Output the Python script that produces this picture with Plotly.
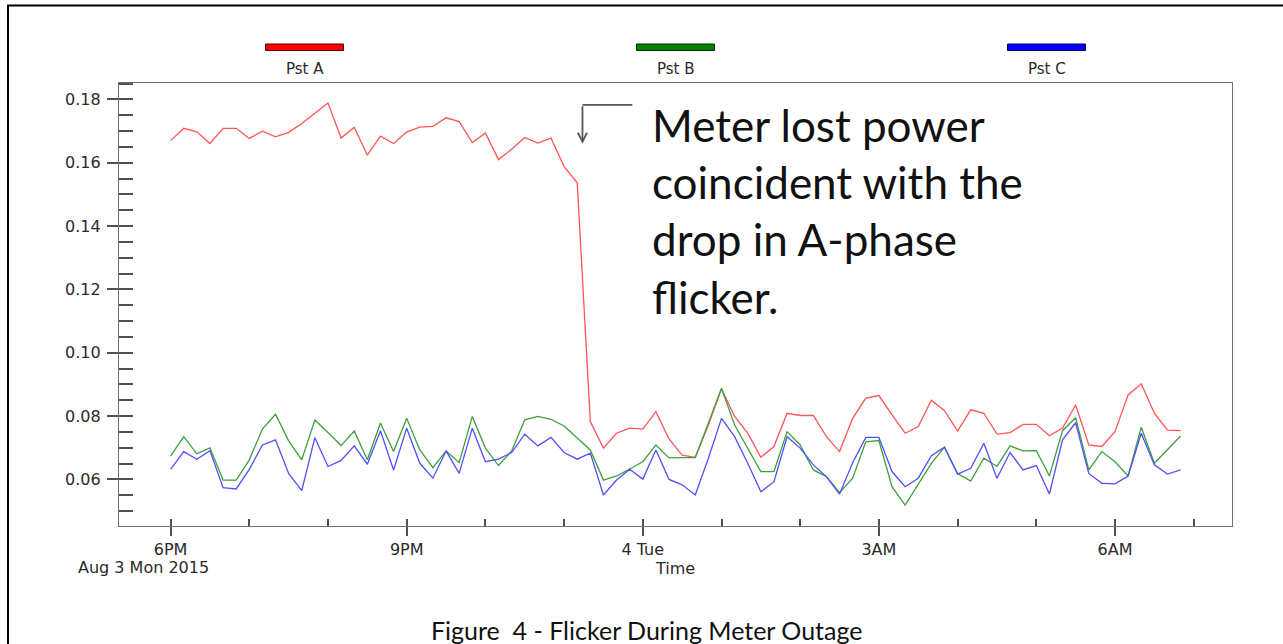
import plotly.graph_objects as go
import pandas as pd

# ---------------- data ----------------
times = pd.date_range("2015-08-03 18:00", periods=78, freq="10min")

pst_a = [0.1670, 0.1709, 0.1698, 0.1661, 0.1709, 0.1709, 0.1677, 0.1700, 0.1682, 0.1696,
         0.1724, 0.1757, 0.1789, 0.1678, 0.1712, 0.1624, 0.1684, 0.1661, 0.1697, 0.1713,
         0.1715, 0.1742, 0.1730, 0.1664, 0.1694, 0.1610, 0.1643, 0.1680, 0.1662, 0.1678,
         0.1588, 0.1537, 0.0783, 0.0699, 0.0746, 0.0762, 0.0759, 0.0814, 0.0728, 0.0677,
         0.0670, 0.0772, 0.0886, 0.0799, 0.0746, 0.0670, 0.0704, 0.0809, 0.0802, 0.0802,
         0.0735, 0.0688, 0.0793, 0.0857, 0.0865, 0.0804, 0.0746, 0.0767, 0.0850, 0.0817,
         0.0753, 0.0820, 0.0809, 0.0743, 0.0748, 0.0774, 0.0774, 0.0738, 0.0762, 0.0835,
         0.0709, 0.0704, 0.0751, 0.0867, 0.0902, 0.0809, 0.0756, 0.0754]

pst_b = [0.0674, 0.0735, 0.0681, 0.0700, 0.0598, 0.0598, 0.0662, 0.0759, 0.0806, 0.0722,
         0.0662, 0.0788, 0.0748, 0.0707, 0.0753, 0.0662, 0.0778, 0.0688, 0.0793, 0.0693,
         0.0637, 0.0690, 0.0653, 0.0799, 0.0699, 0.0644, 0.0690, 0.0788, 0.0799, 0.0790,
         0.0769, 0.0730, 0.0693, 0.0598, 0.0611, 0.0633, 0.0656, 0.0709, 0.0668, 0.0669,
         0.0669, 0.0778, 0.0888, 0.0772, 0.0699, 0.0625, 0.0625, 0.0751, 0.0709, 0.0630,
         0.0609, 0.0558, 0.0604, 0.0719, 0.0723, 0.0577, 0.0519, 0.0583, 0.0651, 0.0702,
         0.0619, 0.0595, 0.0667, 0.0641, 0.0706, 0.0690, 0.0691, 0.0611, 0.0754, 0.0795,
         0.0630, 0.0688, 0.0656, 0.0611, 0.0765, 0.0651, 0.0694, 0.0737]

pst_c = [0.0632, 0.0688, 0.0664, 0.0691, 0.0574, 0.0570, 0.0632, 0.0709, 0.0725, 0.0619,
         0.0565, 0.0732, 0.0641, 0.0660, 0.0706, 0.0648, 0.0754, 0.0630, 0.0762, 0.0651,
         0.0604, 0.0690, 0.0619, 0.0762, 0.0656, 0.0664, 0.0685, 0.0743, 0.0706, 0.0733,
         0.0685, 0.0664, 0.0683, 0.0551, 0.0598, 0.0632, 0.0601, 0.0693, 0.0600, 0.0583,
         0.0551, 0.0667, 0.0793, 0.0735, 0.0651, 0.0561, 0.0593, 0.0735, 0.0699, 0.0646,
         0.0609, 0.0554, 0.0653, 0.0733, 0.0733, 0.0625, 0.0577, 0.0604, 0.0675, 0.0702,
         0.0617, 0.0635, 0.0714, 0.0604, 0.0685, 0.0630, 0.0644, 0.0554, 0.0725, 0.0779,
         0.0619, 0.0588, 0.0586, 0.0611, 0.0746, 0.0646, 0.0617, 0.0630]

series_names = ["Pst A", "Pst B", "Pst C"]
x_tick_vals = ["2015-08-03 18:00", "2015-08-03 21:00", "2015-08-04 00:00",
               "2015-08-04 03:00", "2015-08-04 06:00"]
x_tick_text = ["6PM", "9PM", "4 Tue", "3AM", "6AM"]
y_tick_vals = [0.06, 0.08, 0.10, 0.12, 0.14, 0.16, 0.18]
date_label = "Aug 3 Mon 2015"
x_title = "Time"
note_lines = ["Meter lost power", "coincident with the", "drop in A-phase", "flicker."]
note_time = "2015-08-03 23:14"
note_corner_time = "2015-08-03 23:52"
note_tip_value = 0.1660
note_tail_value = 0.1783
caption = "Figure  4 - Flicker During Meter Outage"

# ---------------- styles ----------------
W, H = 1283, 644
L, R, T, B = 119, 51, 83, 118
PW, PH = W - L - R, H - T - B
x_range = ["2015-08-03 17:20:40", "2015-08-04 07:29:12"]
y_range = [0.0453, 0.1852]

def px_x(x):
    return (x - L) / PW

def px_y(y):
    return (H - B - y) / PH

line_colors = ["#ff5555", "#3f9f3f", "#5050ff"]
swatch_fill = ["#ff0000", "#008000", "#0000ff"]
swatch_edge = ["#5a0000", "#003000", "#00005a"]
tick_font = dict(family="DejaVu Sans", size=16, color="#2a2a2a")
axis_grey = "#707070"
tick_grey = "#505050"

fig = go.Figure()
for name, vals, col in zip(series_names, [pst_a, pst_b, pst_c], line_colors):
    fig.add_trace(go.Scatter(x=times, y=vals, mode="lines", name=name,
                             line=dict(color=col, width=1.3), showlegend=False))

shapes = []
annotations = []

# legend swatches + labels (centered at 1/6, 1/2, 5/6 of plot width)
for k, (name, fcol, ecol) in enumerate(zip(series_names, swatch_fill, swatch_edge)):
    cx = (2 * k + 1) / 6
    half = 39 / PW
    shapes.append(dict(type="rect", xref="paper", yref="paper",
                       x0=cx - half, x1=cx + half, y0=px_y(50.5), y1=px_y(44),
                       fillcolor=fcol, line=dict(color=ecol, width=1)))
    annotations.append(dict(xref="paper", yref="paper", x=cx, y=px_y(69),
                            text=name, showarrow=False, xanchor="center", yanchor="middle",
                            font=dict(family="DejaVu Sans", size=15, color="#2a2a2a")))

# date label under 6PM
annotations.append(dict(xref="paper", yref="paper", x=px_x(211), y=px_y(556),
                        text=date_label, showarrow=False, xanchor="right", yanchor="top",
                        font=tick_font))

# callout text
annotations.append(dict(xref="paper", yref="paper", x=px_x(650), y=px_y(97),
                        text="<br>".join(note_lines), showarrow=False, align="left",
                        xanchor="left", yanchor="top",
                        font=dict(family="Lato", size=44, color="#111111")))

# callout arrow (vertical part with head)
annotations.append(dict(xref="x", yref="y", x=note_time, y=note_tip_value,
                        ax=0, ay=-39, text="", showarrow=True, arrowhead=5,
                        arrowsize=1.0, arrowwidth=1.8, arrowcolor="#555555",
                        standoff=0, startstandoff=0))
shapes.append(dict(type="line", xref="x", yref="y", x0=note_time, x1=note_corner_time,
                   y0=note_tail_value, y1=note_tail_value,
                   line=dict(color="#555555", width=1.8)))

# caption
annotations.append(dict(xref="paper", yref="paper", x=px_x(646), y=px_y(613),
                        text=caption, showarrow=False, xanchor="center", yanchor="top",
                        font=dict(family="Lato", size=25, color="#111111")))

# page border (left and top)
shapes.append(dict(type="line", xref="paper", yref="paper",
                   x0=px_x(8), x1=px_x(8), y0=px_y(5), y1=px_y(650),
                   line=dict(color="black", width=2)))
shapes.append(dict(type="line", xref="paper", yref="paper",
                   x0=px_x(7), x1=px_x(1290), y0=px_y(5.5), y1=px_y(5.5),
                   line=dict(color="black", width=2)))

fig.update_layout(
    width=W, height=H,
    margin=dict(l=L, r=R, t=T, b=B, autoexpand=False),
    paper_bgcolor="white", plot_bgcolor="white",
    shapes=shapes, annotations=annotations,
    xaxis=dict(type="date", range=x_range,
               tickmode="array", tickvals=x_tick_vals, ticktext=x_tick_text,
               ticks="outside", ticklen=9, tickwidth=1.5, tickcolor=tick_grey,
               tickfont=tick_font, showgrid=False, zeroline=False,
               showline=True, linecolor=axis_grey, linewidth=1.3, mirror=True,
               minor=dict(ticks="inside", ticklen=7, tickwidth=1.5, tickcolor=tick_grey,
                          tickmode="linear", tick0="2015-08-03 18:00", dtick=3600000,
                          showgrid=False),
               title=dict(text=x_title, font=tick_font, standoff=3)),
    # overlay axis: inner half of the major x ticks
    xaxis2=dict(type="date", range=x_range, overlaying="x", anchor="y", side="bottom",
                tickmode="array", tickvals=x_tick_vals, ticks="inside", ticklen=7,
                tickwidth=1.5, tickcolor=tick_grey, showticklabels=False,
                showgrid=False, zeroline=False, showline=False),
    yaxis=dict(range=y_range,
               tickmode="array", tickvals=y_tick_vals, tickformat=".2f",
               ticks="outside", ticklen=11, tickwidth=1.5, tickcolor=tick_grey,
               tickfont=tick_font, showgrid=False, zeroline=False, ticklabelstandoff=3,
               showline=True, linecolor=axis_grey, linewidth=1.3, mirror=True,
               minor=dict(ticks="inside", ticklen=14, tickwidth=1.5, tickcolor=tick_grey,
                          tickmode="linear", tick0=0, dtick=0.005, showgrid=False)),
    # overlay axis: inner half of the major y ticks
    yaxis2=dict(range=y_range, overlaying="y", anchor="x", side="left",
                tickmode="array", tickvals=y_tick_vals, ticks="inside", ticklen=14,
                tickwidth=1.5, tickcolor=tick_grey, showticklabels=False,
                showgrid=False, zeroline=False, showline=False),
)

fig.write_html("out.html")
